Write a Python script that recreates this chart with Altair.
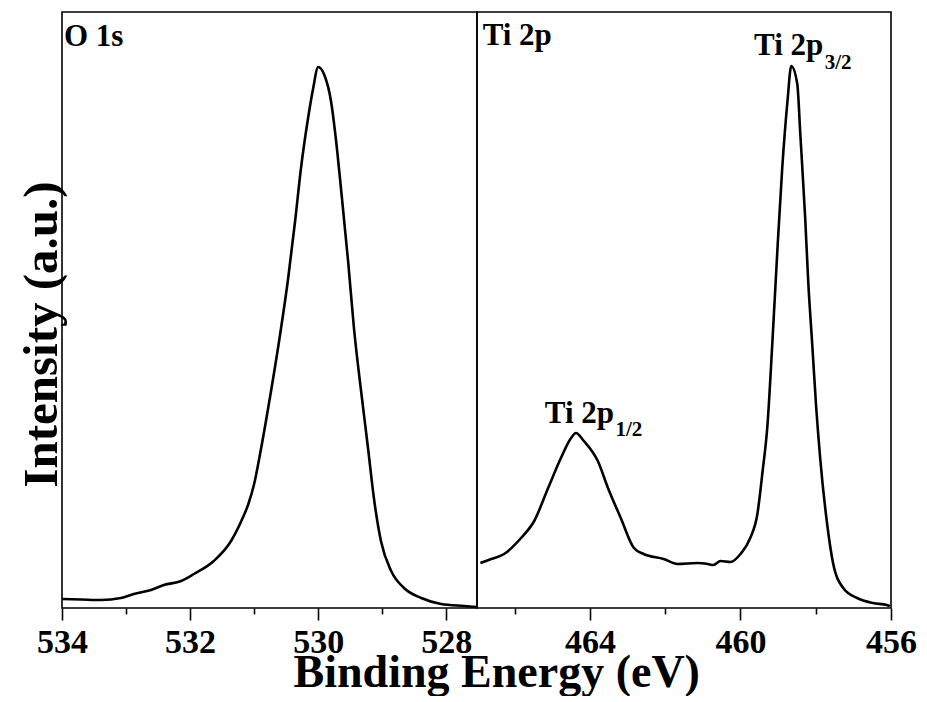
import altair as alt
import pandas as pd

# ---------------- data ----------------
o1s_energy = [534.0, 533.70, 533.39, 533.08, 532.88, 532.61, 532.41, 532.14, 531.94, 531.63,
              531.36, 531.20, 531.09, 531.00, 530.89, 530.77, 530.61, 530.47, 530.36, 530.27,
              530.16, 530.08, 530.00, 529.91, 529.80, 529.72, 529.64, 529.53, 529.44, 529.33,
              529.22, 529.13, 529.02, 528.86, 528.66, 528.39, 528.08, 527.72, 527.52]
o1s_intensity = [9, 8.5, 8, 10, 14, 18, 23, 27, 34, 47,
                 67, 87, 104, 124, 160, 204, 267, 329, 387, 439,
                 489, 519, 541, 534, 507, 467, 417, 345, 279, 217,
                 159, 110, 67, 37, 20, 10, 4, 2, 1]

ti_energy = [466.91, 466.62, 466.28, 465.83, 465.48, 465.11, 464.77, 464.50, 464.37, 464.16,
             463.79, 463.52, 463.18, 462.83, 462.57, 462.04, 461.67, 461.14, 460.87, 460.72,
             460.53, 460.26, 460.00, 459.74, 459.55, 459.42, 459.28, 459.15, 459.02, 458.89,
             458.75, 458.65, 458.49, 458.41, 458.28, 458.20, 458.09, 457.99, 457.88, 457.70,
             457.54, 457.27, 456.90, 456.48, 456.11, 456.03]
ti_intensity = [45, 49, 54, 70, 87, 120, 150, 170, 175, 167,
                147, 120, 90, 60, 54, 49, 44, 45, 44, 43,
                47, 46, 54, 70, 94, 134, 184, 267, 357, 440,
                507, 542, 524, 474, 390, 327, 262, 202, 149, 85,
                45, 20, 10, 5, 3, 2]

o1s_ticks = [534, 533, 532, 531, 530, 529, 528]
ti_ticks = [466, 464, 462, 460, 458, 456]

panel_labels_left = ["O 1s"]
panel_left_E = [533.97]
panel_left_I = [562]

panel_labels_right = ["Ti 2p"]
panel_right_E = [466.85]
panel_right_I = [563]

peak_labels = ["Ti 2p", "Ti 2p"]
peak_E = [457.80, 463.36]
peak_I = [553, 185]

peak_subs = ["3/2", "1/2"]
sub_E = [457.76, 463.32]
sub_I = [539, 172]

FONT = "Liberation Serif"

o1s_df = pd.DataFrame({"energy": o1s_energy, "intensity": o1s_intensity})
ti_df = pd.DataFrame({"energy": ti_energy, "intensity": ti_intensity})

y_scale = alt.Scale(domain=[0, 596], nice=False, zero=False)


def x_enc(domain, values, mod):
    return alt.X(
        "energy:Q",
        scale=alt.Scale(domain=domain, reverse=True, nice=False, zero=False),
        axis=alt.Axis(
            values=values,
            format="d",
            labelExpr=f"datum.value % {mod} === 0 ? datum.label : ''",
            tickSize={"condition": {"test": f"datum.value % {mod} === 0", "value": 12}, "value": 6},
            tickColor="black",
            tickWidth=1.6,
            domain=False,
            grid=False,
            labelFont=FONT,
            labelFontSize=34,
            labelFontWeight="bold",
            labelColor="black",
            labelPadding=5,
            labelFlush=False,
            labelOverlap=False,
            title=None,
        ),
    )


def text_layer(df, align, size):
    return alt.Chart(df).mark_text(
        align=align, baseline="alphabetic", font=FONT, fontSize=size,
        fontWeight="bold", color="black"
    ).encode(
        x=alt.X("energy:Q"),
        y=alt.Y("intensity:Q"),
        text="label:N",
    )


# ---------------- left panel: O 1s ----------------
xl = x_enc([527.52, 534], o1s_ticks, 2)
line_left = alt.Chart(o1s_df).mark_line(
    color="black", strokeWidth=2.6, interpolate="monotone"
).encode(
    x=xl,
    y=alt.Y("intensity:Q", scale=y_scale,
            axis=alt.Axis(title="Intensity (a.u.)", labels=False, ticks=False, domain=False,
                          grid=False, titleFont=FONT, titleFontSize=49, titleFontWeight="bold",
                          titleColor="black", titleAngle=270, titleX=-6, titleY=322,
                          titleBaseline="alphabetic", titleAlign="center")),
)
lbl_left = text_layer(pd.DataFrame({"energy": panel_left_E, "intensity": panel_left_I,
                                    "label": panel_labels_left}), "left", 31)
left = alt.layer(line_left, lbl_left).properties(width=415, height=596)

# ---------------- right panel: Ti 2p ----------------
xr = x_enc([456, 467], ti_ticks, 4)
line_right = alt.Chart(ti_df).mark_line(
    color="black", strokeWidth=2.6, interpolate="monotone"
).encode(
    x=xr,
    y=alt.Y("intensity:Q", scale=y_scale, axis=None),
)
lbl_right = text_layer(pd.DataFrame({"energy": panel_right_E, "intensity": panel_right_I,
                                     "label": panel_labels_right}), "left", 31)
lbl_peaks = text_layer(pd.DataFrame({"energy": peak_E, "intensity": peak_I,
                                     "label": peak_labels}), "right", 31)
lbl_subs = text_layer(pd.DataFrame({"energy": sub_E, "intensity": sub_I,
                                    "label": peak_subs}), "left", 21)
right = alt.layer(line_right, lbl_right, lbl_peaks, lbl_subs).properties(width=414, height=596)

chart = alt.hconcat(left, right, spacing=0, bounds="flush").properties(
    title=alt.TitleParams(
        "Binding Energy (eV)", orient="bottom", anchor="middle", font=FONT,
        fontSize=46, fontWeight="bold", color="black", offset=-9, dx=30,
    ),
    padding={"left": 8, "top": 3, "right": 0, "bottom": 0},
    background="white",
).configure_view(stroke="black", strokeWidth=1.6)

chart.save("out.html", embed_options={"renderer": "svg", "actions": False})
